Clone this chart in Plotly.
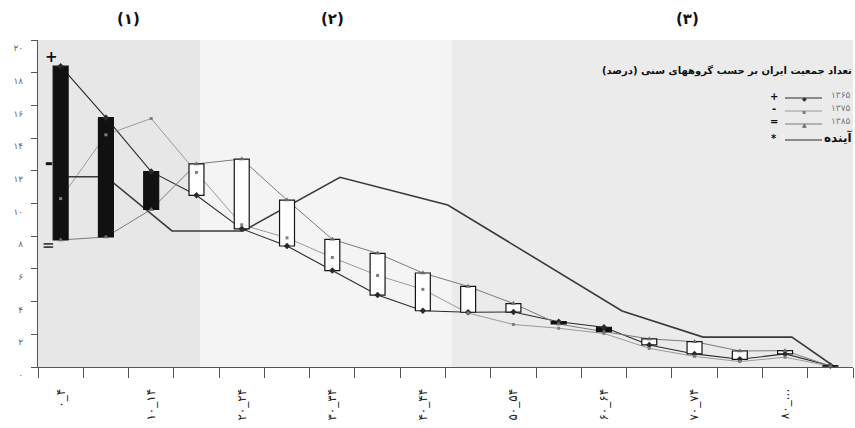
import numpy as np
import plotly.graph_objects as go

# ---------------- data ----------------
age_groups = ["۰_۴", "۵_۹", "۱۰_۱۴", "۱۵_۱۹", "۲۰_۲۴", "۲۵_۲۹", "۳۰_۳۴", "۳۵_۳۹",
              "۴۰_۴۴", "۴۵_۴۹", "۵۰_۵۴", "۵۵_۵۹", "۶۰_۶۴", "۶۵_۶۹", "۷۰_۷۴", "۷۵_۷۹",
              "۸۰_...", "اظهار نشده"]
year_labels = ["۱۳۶۵", "۱۳۷۵", "۱۳۸۵"]
pop_1365 = [18.4, 15.25, 11.95, 10.5, 8.45, 7.4, 5.9, 4.4, 3.44, 3.35, 3.36, 2.77, 2.43, 1.35, 0.8, 0.47, 0.8, 0.08]
pop_1375 = [10.3, 14.2, 15.2, 11.9, 8.7, 7.9, 6.7, 5.6, 4.75, 3.3, 2.6, 2.37, 2.05, 1.14, 0.65, 0.33, 0.6, 0.05]
pop_1385 = [7.77, 7.95, 9.64, 12.42, 12.72, 10.21, 7.81, 6.95, 5.75, 4.93, 3.88, 2.63, 2.16, 1.72, 1.55, 0.98, 1.0, 0.05]
future_label = "آینده"
future_x = [0, 1, 2.46, 4.03, 6.17, 8.55, 12.4, 14.19, 16.15, 17.1]
future_y = [11.64, 11.64, 8.32, 8.32, 11.6, 9.91, 3.43, 1.83, 1.83, 0.0]
y_tick_vals = [0, 2, 4, 6, 8, 10, 12, 14, 16, 18, 20]
y_tick_text = ["۰", "۲", "۴", "۶", "۸", "۱۰", "۱۲", "۱۴", "۱۶", "۱۸", "۲۰"]
region_labels = ["(۱)", "(۲)", "(۳)"]
region_label_x = [1.5, 6.0, 13.85]
region_bounds = [-0.5, 3.08, 8.64, 17.5]
region_colors = ["#e7e7e7", "#f4f4f4", "#ebebeb"]
title_text = "تعداد جمعیت ایران بر حسب گروههای سنی (درصد)"
series_marks = ["+", "-", "=", "*"]

FONT = "DejaVu Sans"
W, H = 855, 428
L, T = 38, 40
R = W - 853
B = H - 367
PW, PH = W - L - R, H - T - B


def px(x):
    """pixel x -> paper fraction"""
    return (x - L) / PW


def py(y):
    """pixel y -> paper fraction"""
    return (H - B - y) / PH


xs = np.arange(len(age_groups))
a = np.array(pop_1365)
c = np.array(pop_1385)
up = c >= a

fig = go.Figure()

line_styles = [
    dict(color="#2a2a2a", width=1.1),
    dict(color="#9a9a9a", width=1.0),
    dict(color="#7a7a7a", width=1.0),
]
marker_styles = [
    dict(symbol="diamond", size=5, color="#2a2a2a"),
    dict(symbol="square", size=3, color="#808080"),
    dict(symbol="triangle-up", size=5, color="#6a6a6a"),
]
for name, vals, ls in zip(year_labels, [pop_1365, pop_1375, pop_1385], line_styles):
    fig.add_trace(go.Scatter(x=xs, y=vals, mode="lines", line=ls, name=name,
                             showlegend=False, xaxis="x", yaxis="y"))
fig.add_trace(go.Scatter(x=future_x, y=future_y, mode="lines",
                         line=dict(color="#3a3a3a", width=1.6), name=future_label,
                         showlegend=False, xaxis="x", yaxis="y", cliponaxis=False))

# up / down bars between first and last census (drawn above the lines)
fig.add_trace(go.Bar(x=xs[up], base=a[up], y=(c - a)[up], width=0.33,
                     marker=dict(color="white", line=dict(color="#151515", width=1.2)),
                     showlegend=False, xaxis="x2", yaxis="y2"))
fig.add_trace(go.Bar(x=xs[~up], base=c[~up], y=(a - c)[~up], width=0.33,
                     marker=dict(color="#111111", line=dict(color="#111111", width=1.2)),
                     showlegend=False, xaxis="x2", yaxis="y2"))

# markers on top
for name, vals, ms in zip(year_labels, [pop_1365, pop_1375, pop_1385], marker_styles):
    fig.add_trace(go.Scatter(x=xs, y=vals, mode="markers", marker=ms, name=name,
                             showlegend=False, xaxis="x3", yaxis="y3", cliponaxis=False))

shapes = []
for i in range(3):
    shapes.append(dict(type="rect", xref="x", yref="paper", x0=region_bounds[i], x1=region_bounds[i + 1],
                       y0=0, y1=1, fillcolor=region_colors[i], line=dict(width=0), layer="below"))

annotations = []
for lab, xl in zip(region_labels, region_label_x):
    annotations.append(dict(x=xl, y=py(19), xref="x", yref="paper", text="<b>" + lab + "</b>",
                            showarrow=False, font=dict(family=FONT, size=15, color="#111"),
                            xanchor="center", yanchor="middle"))

# series start marks
start_marks = [("+", 51, 57, "#111", 15), ("▬", 49, 163, "#111", 8), ("=", 48, 245, "#444", 15)]
for t, x0, y0, col, sz in start_marks:
    annotations.append(dict(x=px(x0), y=py(y0), xref="paper", yref="paper", text="<b>" + t + "</b>",
                            showarrow=False, font=dict(family=FONT, size=sz, color=col),
                            xanchor="center", yanchor="middle"))

# custom legend
annotations.append(dict(x=px(854), y=py(70), xref="paper", yref="paper", text="<b>" + title_text + "</b>",
                        showarrow=False, font=dict(family=FONT, size=10, color="#111"),
                        xanchor="right", yanchor="middle"))
rows_y = [96, 109, 122, 138]
legend_line_cols = ["#2a2a2a", "#9a9a9a", "#7a7a7a", "#2a2a2a"]
legend_syms = ["◆", "▪", "▲", ""]
legend_sym_cols = ["#2a2a2a", "#808080", "#6a6a6a", "#000"]
for i in range(4):
    yy = rows_y[i]
    annotations.append(dict(x=px(774), y=py(yy), xref="paper", yref="paper",
                            text="<b>" + series_marks[i] + "</b>", showarrow=False,
                            font=dict(family=FONT, size=10, color="#111"),
                            xanchor="center", yanchor="middle", height=11))
    shapes.append(dict(type="line", xref="paper", yref="paper", x0=px(785), x1=px(822),
                       y0=py(yy + 2), y1=py(yy + 2),
                       line=dict(color=legend_line_cols[i], width=1.2 if i == 3 else 1)))
    if legend_syms[i]:
        annotations.append(dict(x=px(804), y=py(yy + 2), xref="paper", yref="paper",
                                text=legend_syms[i], showarrow=False,
                                font=dict(family=FONT, size=6, color=legend_sym_cols[i]),
                                xanchor="center", yanchor="middle"))
    if i < 3:
        annotations.append(dict(x=px(829), y=py(yy - 1), xref="paper", yref="paper",
                                text=year_labels[i], showarrow=False,
                                font=dict(family=FONT, size=9, color="#777"),
                                xanchor="left", yanchor="middle"))
    else:
        annotations.append(dict(x=px(854), y=py(yy - 1), xref="paper", yref="paper",
                                text="<b>" + future_label + "</b>", showarrow=False,
                                font=dict(family=FONT, size=12, color="#111"),
                                xanchor="right", yanchor="middle"))

xr = [-0.5, len(age_groups) - 0.5]
yr = [0, 20]
fig.update_layout(
    width=W, height=H,
    margin=dict(l=L, r=R, t=T, b=B, autoexpand=False),
    paper_bgcolor="white", plot_bgcolor="rgba(0,0,0,0)",
    template="none",
    barmode="overlay",
    showlegend=False,
    font=dict(family=FONT, size=10, color="#333"),
    shapes=shapes,
    annotations=annotations,
    xaxis=dict(range=xr, showgrid=False, zeroline=False, showline=True, linecolor="#555", linewidth=1,
               tickmode="array", tickvals=list(xs[::2]), ticktext=age_groups[::2], ticks="",
               tickangle=-90, ticklabelstandoff=16, automargin=False,
               tickfont=dict(family=FONT, size=12, color="#222"),
               minor=dict(tickmode="array", tickvals=list(np.arange(-0.5, len(age_groups), 1.0)),
                          ticks="outside", ticklen=10, tickcolor="#555", tickwidth=1, showgrid=False)),
    yaxis=dict(range=yr, showgrid=False, zeroline=False, showline=True, linecolor="#555", linewidth=1,
               tickmode="array", tickvals=y_tick_vals, ticktext=y_tick_text, ticks="outside",
               ticklen=6, tickcolor="#555", ticklabelshift=8, ticklabelstandoff=6, automargin=False,
               tickfont=dict(family=FONT, size=9, color="#666")),
    xaxis2=dict(overlaying="x", anchor="y2", range=xr, visible=False),
    yaxis2=dict(overlaying="y", anchor="x2", range=yr, visible=False),
    xaxis3=dict(overlaying="x", anchor="y3", range=xr, visible=False),
    yaxis3=dict(overlaying="y", anchor="x3", range=yr, visible=False),
)

fig.write_html("out.html", config={"displayModeBar": False, "staticPlot": True},
               post_script="document.body.style.margin='0px';document.body.style.overflow='hidden';")
